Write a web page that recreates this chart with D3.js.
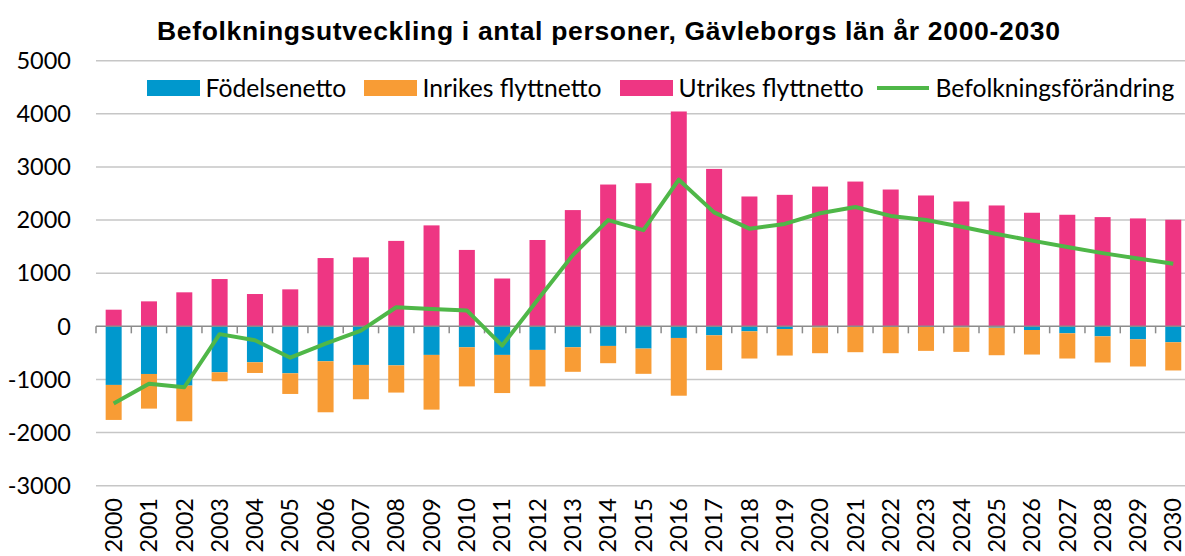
<!DOCTYPE html>
<html><head><meta charset="utf-8">
<script src="https://cdn.jsdelivr.net/npm/d3@7"></script>
<style>
html,body{margin:0;padding:0;background:#fff;overflow:hidden}
svg{display:block}
</style></head><body>
<svg id="chart" width="1185" height="556"></svg>
<script>
const years = ["2000","2001","2002","2003","2004","2005","2006","2007","2008","2009","2010","2011","2012","2013","2014","2015","2016","2017","2018","2019","2020","2021","2022","2023","2024","2025","2026","2027","2028","2029","2030"];
const fodelsenetto = [-1103,-897,-1116,-865,-677,-884,-658,-727,-735,-538,-394,-538,-444,-394,-369,-419,-219,-169,-94,-50,-19,-12,-12,-12,-19,-25,-69,-131,-188,-244,-300];
const inrikes = [-659,-652,-671,-169,-201,-389,-960,-646,-512,-1030,-737,-718,-687,-462,-325,-475,-1087,-656,-512,-500,-487,-475,-494,-450,-462,-519,-462,-475,-493,-512,-531];
const utrikes = [313,470,640,890,608,696,1285,1298,1608,1900,1438,900,1625,2188,2669,2694,4044,2963,2444,2475,2631,2725,2575,2463,2350,2275,2138,2100,2056,2031,2006];
const befolkning = [-1452,-1082,-1147,-147,-262,-590,-327,-80,359,328,300,-362,494,1340,2000,1810,2760,2145,1838,1928,2128,2247,2078,2003,1875,1738,1613,1494,1378,1275,1178];
const yTicks = [-3000,-2000,-1000,0,1000,2000,3000,4000,5000];
const seriesNames = ["Födelsenetto","Inrikes flyttnetto","Utrikes flyttnetto","Befolkningsförändring"];
const colors = ["#0098cd","#f89c35","#ee3683","#4fb748"];

const svg = d3.select("#chart");
const FONT = "Lato, 'Noto Sans', sans-serif";

const x = d3.scaleBand().domain(years).range([96, 96 + 31*35.32]).paddingInner(0.547).paddingOuter(0.2735);
const y = d3.scaleLinear().domain([-3000, 5000]).range([485.7, 60.7]);

// gridlines
svg.append("g").selectAll("line").data(yTicks.filter(d=>d!==0)).join("line")
  .attr("x1", 96).attr("x2", 1185)
  .attr("y1", d=>y(d)).attr("y2", d=>y(d))
  .attr("stroke", "#c6c6c6").attr("stroke-width", 1.5);

// y labels
svg.append("g").selectAll("text").data(yTicks).join("text")
  .attr("x", 71).attr("y", d=>y(d)).attr("dy", "0.35em")
  .attr("text-anchor", "end").attr("font-family", FONT).attr("font-size", 23.5).attr("fill", "#000")
  .text(d=>d);

// stacked bars
const table = years.map((yr,i)=>({year:yr, f:fodelsenetto[i], i:inrikes[i], u:utrikes[i]}));
const stack = d3.stack().keys(["f","i","u"]).offset(d3.stackOffsetDiverging);
const layers = stack(table);
svg.append("g").selectAll("g").data(layers).join("g")
  .attr("fill", (d,k)=>colors[k])
  .selectAll("rect").data(d=>d).join("rect")
  .attr("x", d=>x(d.data.year)).attr("width", x.bandwidth())
  .attr("y", d=>y(Math.max(d[0],d[1]))).attr("height", d=>Math.abs(y(d[0])-y(d[1])));

// zero axis with ticks
const ax = svg.append("g");
ax.append("line").attr("x1", 96).attr("x2", 1185).attr("y1", y(0)).attr("y2", y(0))
  .attr("stroke", "#8c8c8c").attr("stroke-width", 1.5);
const step = x.step();
ax.selectAll("line.tk").data(d3.range(0, 32)).join("line").attr("class","tk")
  .attr("x1", k=>96 + k*step).attr("x2", k=>96 + k*step)
  .attr("y1", y(0)).attr("y2", y(0)+7)
  .attr("stroke", "#8c8c8c").attr("stroke-width", 1.5);

// line
const line = d3.line().x((d,i)=>x(years[i]) + x.bandwidth()/2).y(d=>y(d));
svg.append("path").datum(befolkning).attr("d", line)
  .attr("fill", "none").attr("stroke", colors[3]).attr("stroke-width", 4).attr("stroke-linejoin","round");

// x labels
svg.append("g").selectAll("text").data(years).join("text")
  .attr("transform", d=>`translate(${x(d)+x.bandwidth()/2},498) rotate(-90)`)
  .attr("dy", "0.35em").attr("text-anchor", "end")
  .attr("font-family", FONT).attr("font-size", 23.5).attr("fill", "#000")
  .text(d=>d);

// title
svg.append("text").attr("x", 157).attr("y", 39.5).attr("text-anchor", "start")
  .attr("font-family", "'Liberation Sans', Arial, sans-serif").attr("font-weight", "bold").attr("font-size", 26.5)
  .attr("textLength", 903).attr("lengthAdjust", "spacing")
  .attr("fill", "#000").text("Befolkningsutveckling i antal personer, Gävleborgs län år 2000-2030");

// legend
const legX = [147, 364, 620, 877];
const lg = svg.append("g");
seriesNames.forEach((name,k)=>{
  if (k < 3) {
    lg.append("rect").attr("x", legX[k]).attr("y", 80).attr("width", 53).attr("height", 16).attr("fill", colors[k]);
  } else {
    lg.append("line").attr("x1", legX[k]).attr("x2", legX[k]+52).attr("y1", 88).attr("y2", 88)
      .attr("stroke", colors[k]).attr("stroke-width", 4);
  }
  lg.append("text").attr("x", legX[k] + 58.5).attr("y", 88).attr("dy", "0.35em")
    .attr("font-family", FONT).attr("font-size", 24.7).attr("fill", "#000").text(name);
});
</script>
</body></html>
